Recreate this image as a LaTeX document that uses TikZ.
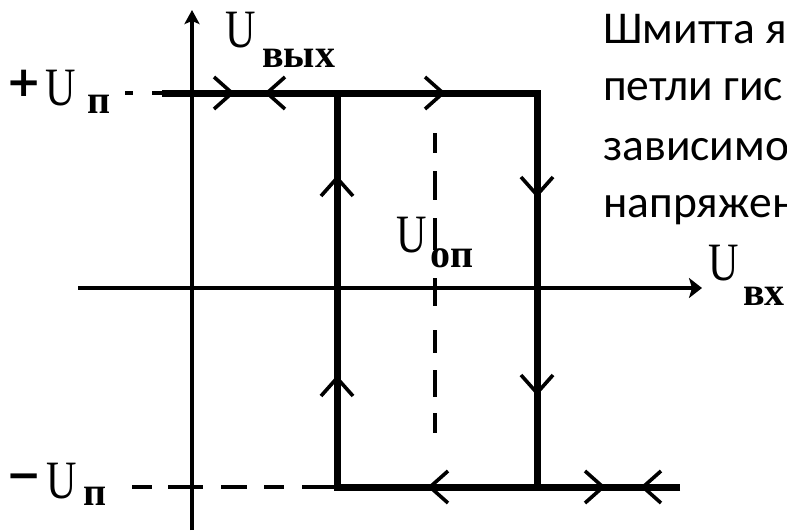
\documentclass[tikz,border=0pt]{standalone}
\usepackage{fontspec}
\usepackage{graphicx}
\usetikzlibrary{arrows.meta}
\newfontfamily\subfont{Liberation Serif}
\newfontfamily\signfont{DejaVu Sans}
\newfontfamily\cfont{Carlito}
\newcommand{\narrowU}{\scalebox{0.78}[1]{U}}
\begin{document}
\begin{tikzpicture}[x=1pt,y=-1pt,
  axis/.style={line width=3.3pt},
  xtip/.style={-{Stealth[length=13pt,width=20pt,inset=3pt]}},
  ytip/.style={-{Stealth[length=14pt,width=15pt,inset=3pt]}},
  loop/.style={line width=7pt,line join=miter,line cap=butt},
  guide/.style={line width=3.6pt,line cap=butt},
  chevstroke/.style={line width=3.6pt,line join=miter},
  chev/.pic={\draw[chevstroke] (-18,-16) -- (0,0) -- (-18,16);},
  bigU/.style={font=\subfont\fontsize{54}{54}\selectfont,inner sep=0pt,anchor=base west},
  sub/.style={font=\subfont\bfseries\fontsize{40}{40}\selectfont,inner sep=0pt,anchor=base west},
  sign/.style={font=\signfont\bfseries\fontsize{42}{42}\selectfont,inner sep=0pt,anchor=center},
  note/.style={font=\cfont\fontsize{45.5}{58}\selectfont,inner sep=0pt,anchor=base west}]
\useasboundingbox (0,0) rectangle (787,531);
% named points
\coordinate (xs) at (78,288);
\coordinate (xe) at (702,288);
\coordinate (ys) at (192,530);
\coordinate (ye) at (192,10);
\coordinate (ts) at (162,93);
\coordinate (tl) at (337,93);
\coordinate (tr) at (537,93);
\coordinate (bl) at (337,487);
\coordinate (br) at (537,487);
\coordinate (be) at (680,487);
\coordinate (td) at (125,93);
\coordinate (bd) at (132,487);
\coordinate (vt) at (435,133);
\coordinate (vb) at (435,433);
% axes
\draw[axis,xtip] (xs) -- (xe);
\draw[axis,ytip] (ys) -- (ye);
% dashed guides
\draw[guide,dash pattern=on 8pt off 19pt on 20pt] (td) -- (ts);
\draw[guide,dash pattern=on 20pt off 16pt on 35pt off 18pt on 26pt off 17pt on 20pt off 18pt on 40pt] (bd) -- (bl);
\draw[guide,dash pattern=on 20pt off 18pt on 29pt off 18pt on 32pt off 28pt on 28pt off 24pt on 23pt off 17pt on 27pt off 16pt on 20pt off 40pt] (vt) -- (vb);
% hysteresis loop
\draw[loop] (ts) -- (tr) -- (br);
\draw[loop] (be) -- (bl) -- (tl);
% direction marks
\pic at (232,93) {chev};
\pic[rotate=180] at (267,93) {chev};
\pic at (443,93) {chev};
\pic[rotate=180] at (430,487) {chev};
\pic at (603,487) {chev};
\pic[rotate=180] at (643,487) {chev};
\pic[rotate=90] at (337,178) {chev};
\pic[rotate=90] at (337,378) {chev};
\pic[rotate=-90] at (537,195) {chev};
\pic[rotate=-90] at (537,393) {chev};
% labels
\node[bigU] (uvyx) at (225,47) {\narrowU};
\node[sub] (svyx) at (262,67) {вых};
\node[sign] (plus) at (24.5,83) {+};
\node[bigU] (upl) at (45,105) {\narrowU};
\node[sub] (spl) at (87,113) {п};
\node[sign] (minus) at (24.5,482) {−};
\node[bigU] (umi) at (46,498) {\narrowU};
\node[sub] (smi) at (83,505) {п};
\node[bigU] (uop) at (396,252) {\narrowU};
\node[sub] (sop) at (430,267) {оп};
\node[bigU] (uvx) at (708,280) {\narrowU};
\node[sub] (svx) at (743,305) {вх};
% side text
\node[note] (l1) at (603,43) {Шмитта я};
\node[note] (l2) at (603,100) {петли гис};
\node[note] (l3) at (603,160) {зависимо};
\node[note] (l4) at (603,217) {напряжен};
\end{tikzpicture}
\end{document}
